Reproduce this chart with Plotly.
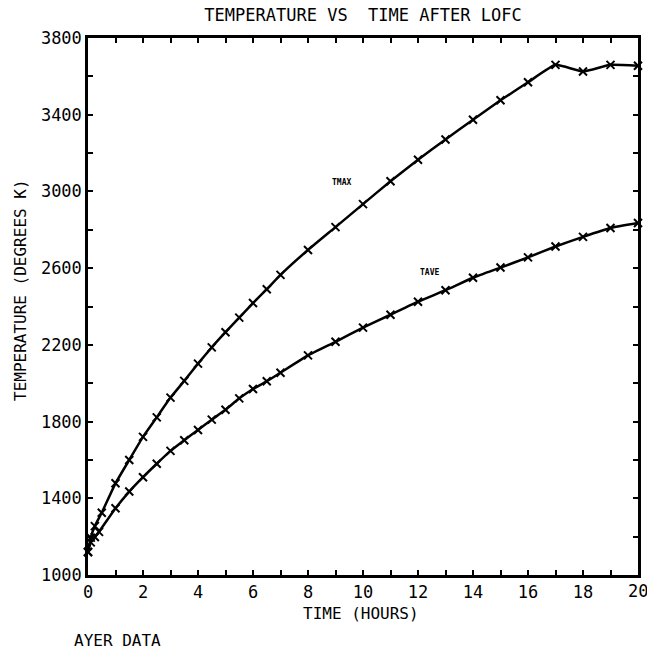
import plotly.graph_objects as go

# ---- data ----
t_max = [0, 0.1, 0.25, 0.5, 1, 1.5, 2, 2.5, 3, 3.5, 4, 4.5, 5, 5.5, 6, 6.5, 7,
         8, 9, 10, 11, 12, 13, 14, 15, 16, 17, 18, 19, 20]
tmax = [1120, 1195, 1255, 1325, 1478, 1600, 1720, 1822, 1925, 2012, 2102, 2187, 2266, 2342,
        2418, 2490, 2565, 2695, 2814, 2934, 3053, 3165, 3271, 3374, 3475, 3569, 3660,
        3625, 3660, 3655]

t_ave = [0, 0.1, 0.25, 0.4, 1, 1.5, 2, 2.5, 3, 3.5, 4, 4.5, 5, 5.5, 6, 6.5, 7,
         8, 9, 10, 11, 12, 13, 14, 15, 16, 17, 18, 19, 20]
tave = [1120, 1170, 1198, 1225, 1348, 1435, 1510, 1580, 1647, 1703, 1756, 1810, 1862, 1921,
        1970, 2010, 2055, 2145, 2216, 2290, 2357, 2425, 2485, 2550, 2603, 2656, 2713,
        2763, 2809, 2835]

x_ticks = list(range(0, 21, 2))
y_ticks = list(range(1000, 3801, 400))

FONT = "DejaVu Sans Mono"

fig = go.Figure()
for xs, ys in [(t_max, tmax), (t_ave, tave)]:
    fig.add_trace(go.Scatter(
        x=xs, y=ys, mode="lines+markers",
        line=dict(color="black", width=2.5, shape="spline", smoothing=0.4),
        marker=dict(symbol="x-thin-open", size=8, color="black",
                    line=dict(color="black", width=2)),
        showlegend=False, hoverinfo="skip", cliponaxis=False))

fig.update_layout(
    width=647, height=650,
    margin=dict(l=88, r=9, t=38, b=75, autoexpand=False),
    paper_bgcolor="white", plot_bgcolor="white",
    font=dict(family=FONT, color="black", size=16),
    title=dict(text="TEMPERATURE VS  TIME AFTER LOFC", x=0.5, xanchor="center",
               xref="paper", y=1 - 15 / 650, yanchor="middle",
               font=dict(family=FONT, size=17, color="black")),
)

# last x tick label would overflow the page edge, so it is drawn as an annotation
inner_ticks = x_ticks[:-1]
fig.update_xaxes(
    range=[0, 20], tickvals=inner_ticks, ticktext=[str(v) for v in inner_ticks],
    showgrid=False, zeroline=False, automargin=False,
    showline=True, linecolor="black", linewidth=2.5, mirror="ticks",
    ticks="inside", ticklen=5, tickwidth=1.5, tickcolor="black",
    minor=dict(dtick=1, ticks="inside", ticklen=5, tickwidth=1.5, tickcolor="black"),
    tickfont=dict(family=FONT, size=17, color="black"),
)
fig.update_yaxes(
    range=[1000, 3800], tickvals=y_ticks, ticktext=[str(v) for v in y_ticks],
    showgrid=False, zeroline=False, automargin=False,
    showline=True, linecolor="black", linewidth=2.5, mirror="ticks",
    ticks="inside", ticklen=5, tickwidth=1.5, tickcolor="black",
    minor=dict(dtick=200, ticks="inside", ticklen=5, tickwidth=1.5, tickcolor="black"),
    tickfont=dict(family=FONT, size=17, color="black"),
)

ann = [
    dict(text=str(x_ticks[-1]), x=x_ticks[-1], y=-16 / 537, xref="x", yref="paper",
         xanchor="center", yanchor="middle", showarrow=False,
         font=dict(family=FONT, size=17)),
    dict(text="TIME (HOURS)", x=0.497, y=-38 / 537, xref="paper", yref="paper",
         xanchor="center", yanchor="middle", showarrow=False,
         font=dict(family=FONT, size=16)),
    dict(text="AYER DATA", x=(72 - 88) / 550, y=-65 / 537, xref="paper", yref="paper",
         xanchor="left", yanchor="middle", showarrow=False,
         font=dict(family=FONT, size=16)),
    dict(text="TEMPERATURE (DEGREES K)", x=(20 - 88) / 550, y=(575 - 290) / 537,
         xref="paper", yref="paper", xanchor="center", yanchor="middle",
         textangle=-90, showarrow=False, font=dict(family=FONT, size=16)),
    dict(text="<b>TMAX</b>", x=9.2, y=3045, xref="x", yref="y", showarrow=False,
         font=dict(family=FONT, size=8)),
    dict(text="<b>TAVE</b>", x=12.4, y=2575, xref="x", yref="y", showarrow=False,
         font=dict(family=FONT, size=8)),
]
fig.update_layout(annotations=ann)

fig.write_html("out.html")
